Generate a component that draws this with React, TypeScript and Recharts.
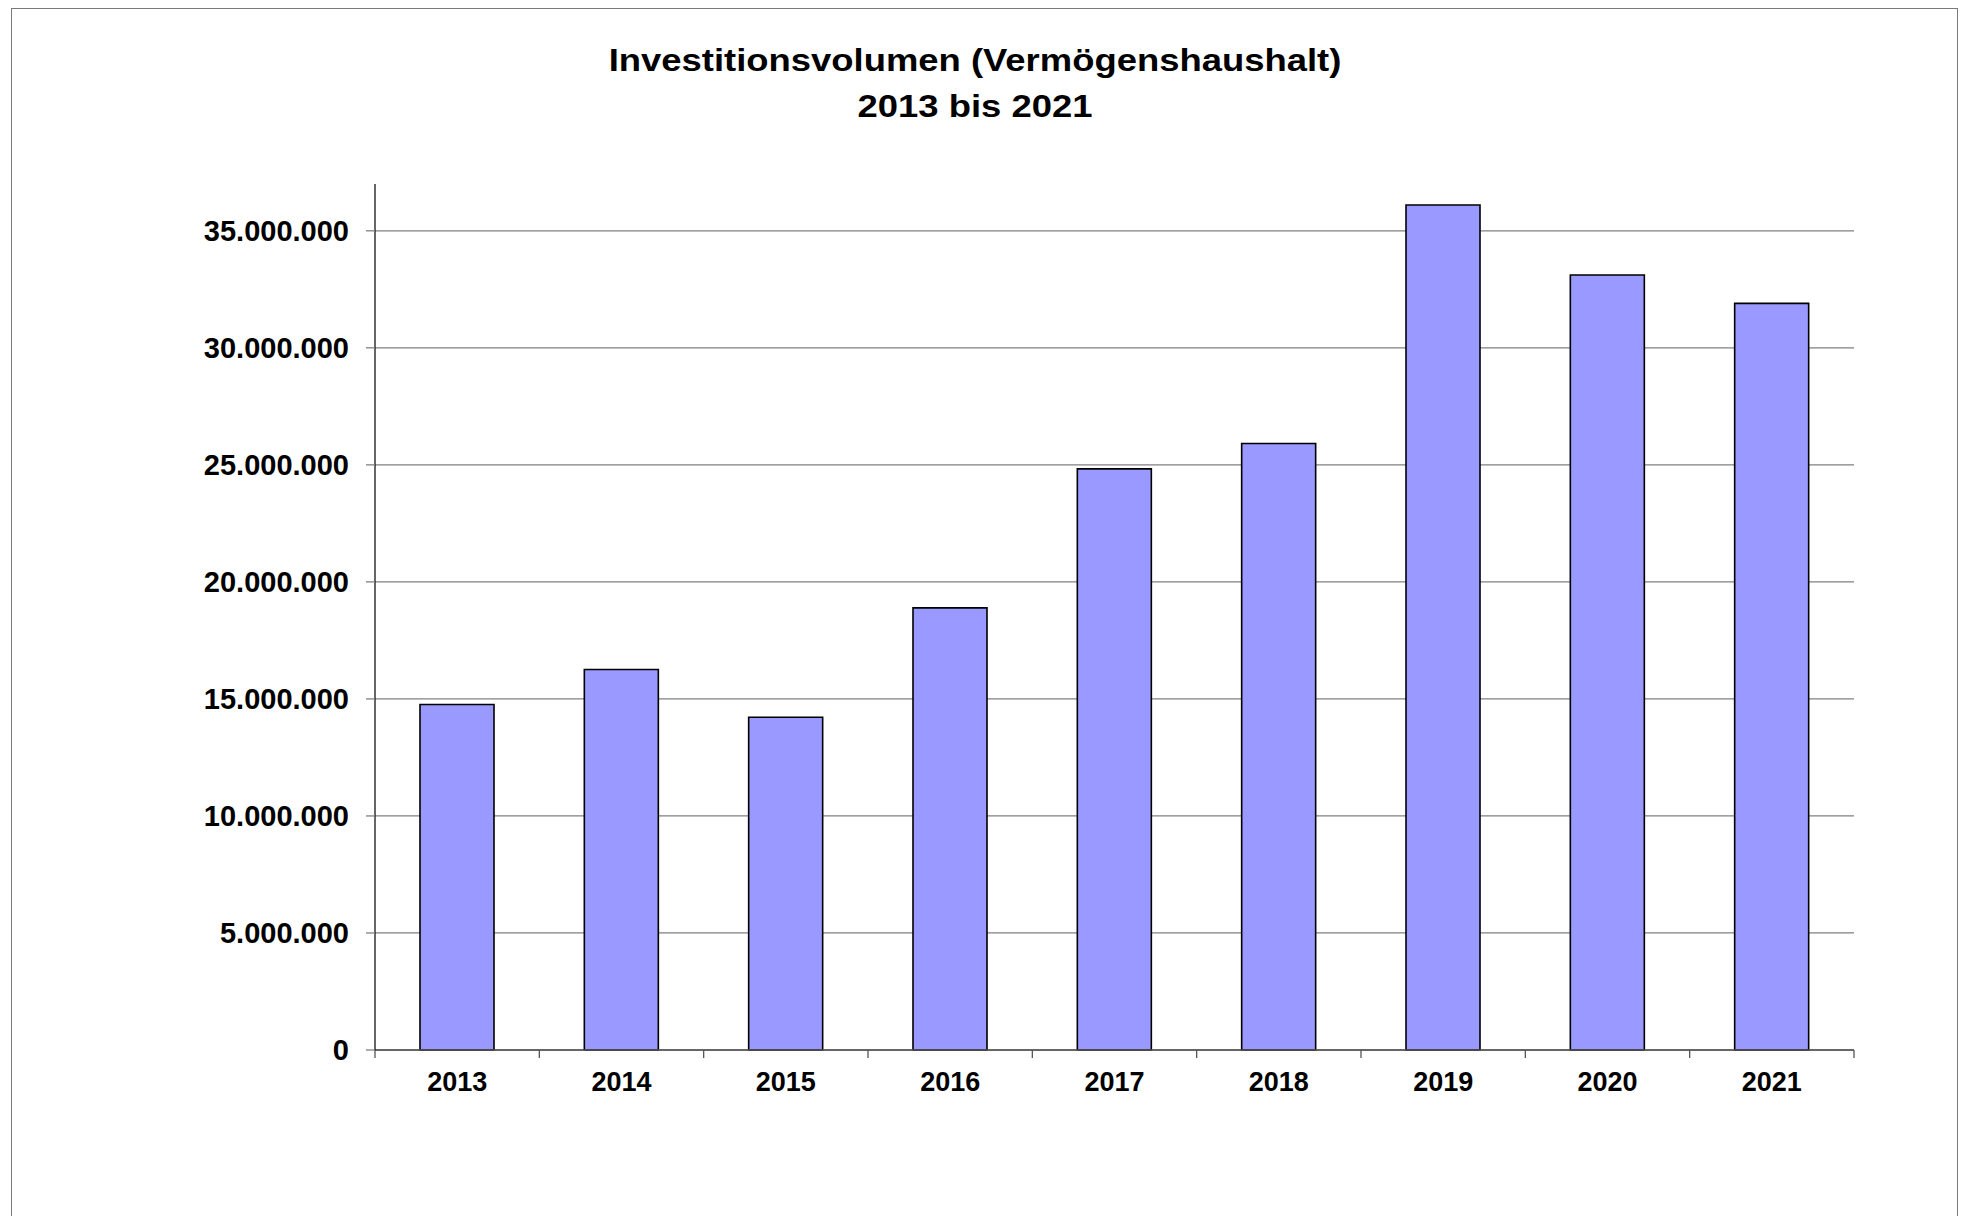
import { BarChart, Bar, XAxis, YAxis, CartesianGrid } from 'recharts';

const years = ['2013', '2014', '2015', '2016', '2017', '2018', '2019', '2020', '2021'];
const volumes = [14760000, 16260000, 14220000, 18890000, 24830000, 25910000, 36100000, 33110000, 31900000];
const yTicks = [0, 5000000, 10000000, 15000000, 20000000, 25000000, 30000000, 35000000];
const yMax = 37000000;

const data = years.map((year, i) => ({ year, volumen: volumes[i] }));

const FONT = '"Liberation Sans", Arial, Helvetica, sans-serif';

// 35000000 -> 35.000.000
const fmt = (v: number) => String(v).replace(/\B(?=(\d{3})+(?!\d))/g, '.');

// grid only at the labelled ticks, no line at the top of the axis
const gridRows = ({ offset }: any) => yTicks.map((t) => offset.top + offset.height * (1 - t / yMax));

// year label plus the tick marks on the category boundaries (like Excel)
function YearTick(props: any) {
  const { x, y, payload, index, visibleTicksCount, width } = props;
  const half = payload?.offset || width / visibleTicksCount / 2;
  const top = y - 22;
  return (
    <g>
      <line x1={x - half} y1={top} x2={x - half} y2={top + 8} stroke="#555" strokeWidth={1.3} />
      {index === visibleTicksCount - 1 && (
        <line x1={x + half} y1={top} x2={x + half} y2={top + 8} stroke="#555" strokeWidth={1.3} />
      )}
      <text
        x={x}
        y={y}
        dy="0.71em"
        textAnchor="middle"
        fontFamily={FONT}
        fontWeight="bold"
        fontSize={27}
        fill="#000"
      >
        {payload.value}
      </text>
    </g>
  );
}

export default function App() {
  return (
    <div
      style={{
        position: 'absolute',
        left: 0,
        top: 0,
        width: 1966,
        height: 1216,
        overflow: 'hidden',
        background: '#fff',
        fontFamily: FONT,
      }}
    >
      <div
        style={{
          position: 'absolute',
          left: 11,
          top: 8,
          width: 1945,
          height: 1300,
          border: '1.5px solid #7a7a7a',
        }}
      />
      <div style={{ position: 'absolute', left: 0, top: 0 }}>
        <BarChart width={1966} height={1216} data={data} margin={{ top: 184, right: 112, left: 0, bottom: 0 }}>
          <CartesianGrid
            vertical={false}
            stroke="#808080"
            strokeWidth={1.3}
            horizontalCoordinatesGenerator={gridRows}
          />
          <XAxis
            dataKey="year"
            height={166}
            axisLine={{ stroke: '#555', strokeWidth: 1.3 }}
            tickLine={false}
            tickSize={8}
            tickMargin={14}
            tick={<YearTick />}
            interval={0}
          />
          <YAxis
            width={375}
            domain={[0, yMax]}
            ticks={yTicks}
            interval={0}
            tickFormatter={fmt}
            axisLine={{ stroke: '#000', strokeWidth: 1.2 }}
            tickLine={{ stroke: '#808080', strokeWidth: 1.3 }}
            tickSize={9}
            tickMargin={17}
            tick={{ fontFamily: FONT, fontSize: 29, fontWeight: 'bold', fill: '#000' }}
          />
          <Bar dataKey="volumen" fill="#9999FF" stroke="#000" strokeWidth={1.6} barSize={74} isAnimationActive={false} />
        </BarChart>
      </div>
      <div
        style={{
          position: 'absolute',
          left: 0,
          top: 38,
          width: 1950,
          textAlign: 'center',
          fontSize: 31,
          lineHeight: '45.6px',
          fontWeight: 'bold',
          color: '#000',
          transform: 'scaleX(1.175)',
          transformOrigin: '975px 0',
        }}
      >
        Investitionsvolumen (Vermögenshaushalt)
        <br />
        2013 bis 2021
      </div>
    </div>
  );
}
